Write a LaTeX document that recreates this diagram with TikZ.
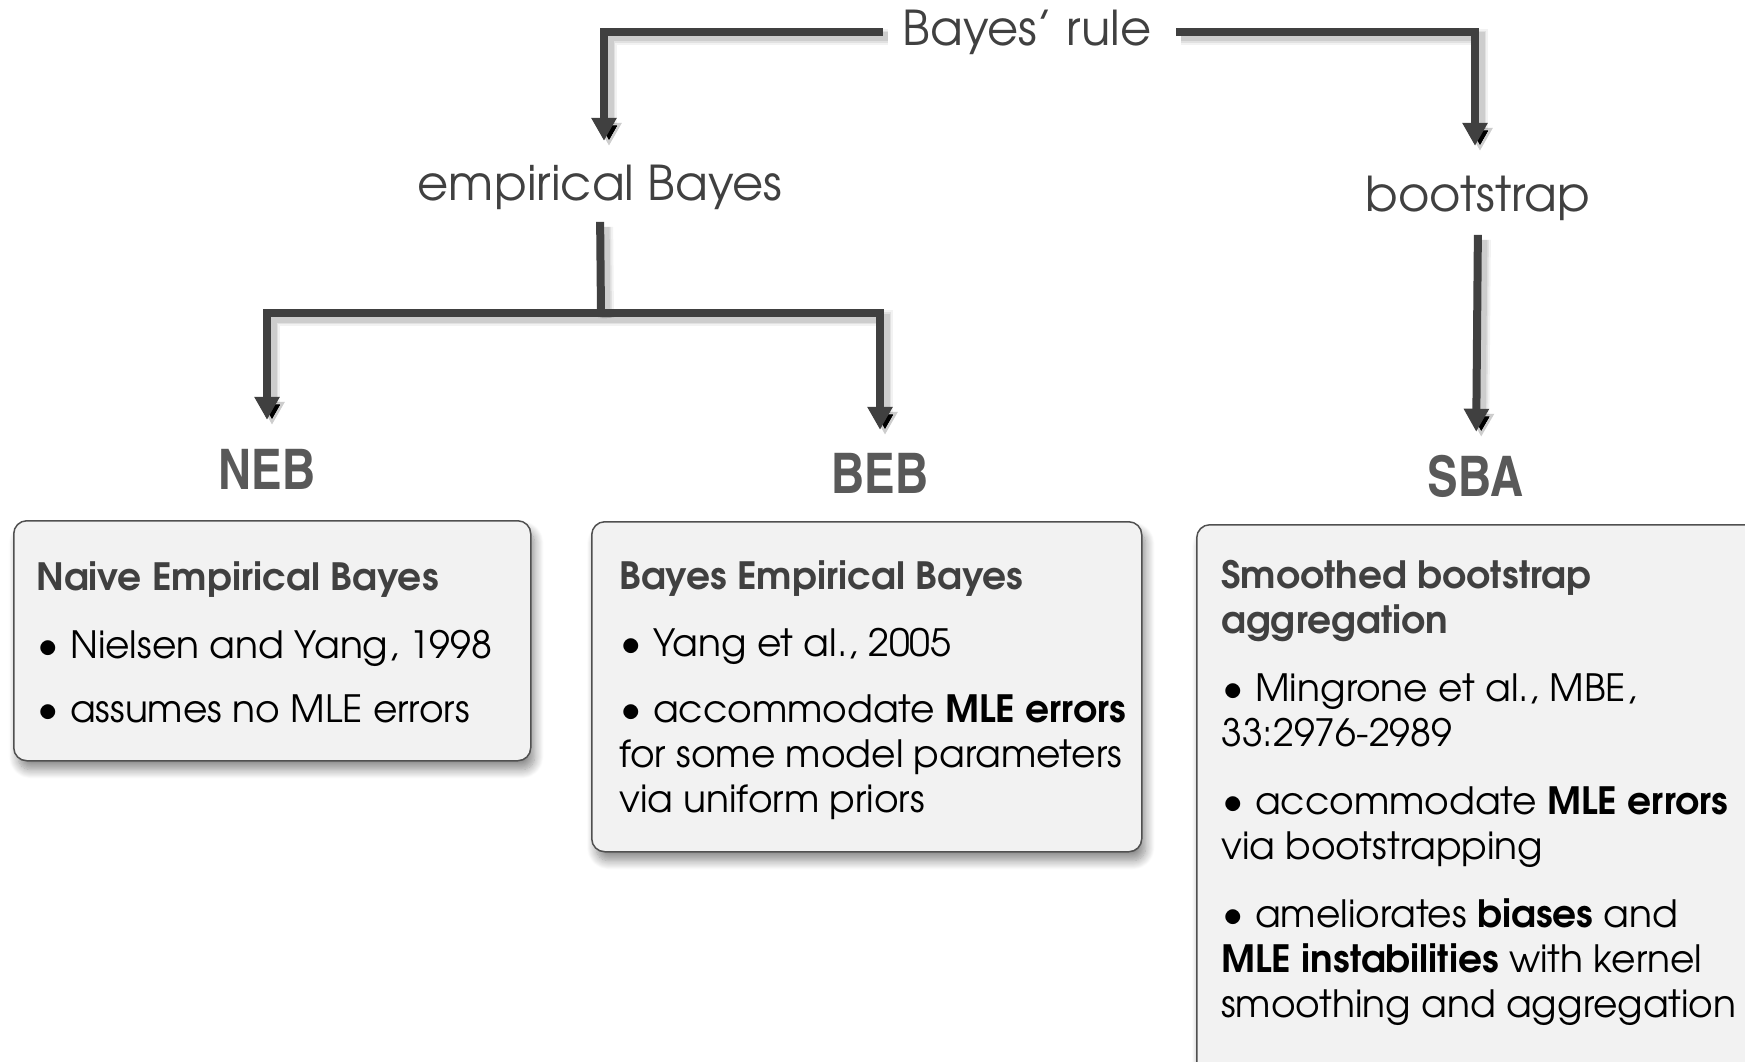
\documentclass[tikz,border=0pt]{standalone}
\usepackage{fontspec}
\setmainfont{texgyreadventor}[Extension=.otf, UprightFont=*-regular, BoldFont=*-bold, ItalicFont=*-italic, BoldItalicFont=*-bolditalic]
\newfontfamily\condfont{texgyreheroscn}[Extension=.otf, UprightFont=*-bold]
\usetikzlibrary{arrows.meta,shadows.blur}
\definecolor{conncol}{HTML}{404040}
\definecolor{boxfill}{HTML}{F2F2F2}
\definecolor{boxdraw}{HTML}{505050}
\definecolor{labcol}{HTML}{595959}
\definecolor{titlecol}{HTML}{404040}
\newcommand{\bulletmark}{\makebox[34pt][l]{\hspace{1.5pt}\scalebox{1.1}{•}}}
\begin{document}
\begin{tikzpicture}[x=1pt,y=-1pt,
  toptext/.style={inner sep=0pt, text=conncol, font=\fontsize{48}{58}\selectfont},
  lab/.style={inner sep=0pt, text=labcol, font=\condfont\fontsize{56}{60}\selectfont},
  linkline/.style={draw=conncol, line width=8pt, line join=miter,
    preaction={draw=black, draw opacity=0.05, line width=16pt, transform canvas={shift={(5pt,-5pt)}}},
    preaction={draw=black, draw opacity=0.07, line width=12pt, transform canvas={shift={(5pt,-5pt)}}},
    preaction={draw=black, draw opacity=0.09, line width=9pt, transform canvas={shift={(5pt,-5pt)}}}},
  conn/.style={linkline, -{Triangle[width=24pt,length=23pt]}},
  box/.style={draw=boxdraw, line width=1.5pt, fill=boxfill, rounded corners=13pt, inner sep=0pt, anchor=north west,
    blur shadow={shadow xshift=4pt, shadow yshift=-9pt, shadow blur radius=9pt, shadow blur steps=12, shadow opacity=45}},
  boxtext/.style={inner sep=0pt, anchor=north west, align=left, text=black, font=\fontsize{37.6}{45}\selectfont}
]
\useasboundingbox (0,0) rectangle (1745,1061);
\clip (0,0) rectangle (1745,1061);

% top level texts
\node[toptext, anchor=base] (bayes) at (1027,45) {Bayes’ rule};
\node[toptext, anchor=base] (eb) at (600,200) {empirical Bayes};
\node[toptext, anchor=base] (bs) at (1478,211) {bootstrap};

% labels
\node[lab, anchor=base] (neb) at (267,489) {NEB};
\node[lab, anchor=base] (beb) at (880,493) {BEB};
\node[lab, anchor=base] (sba) at (1476,496) {SBA};

% connectors
\draw[conn, shorten <=20pt, shorten >=23.5pt] (bayes.west) -| ([xshift=4pt]eb.north);
\draw[conn, shorten <=25pt, shorten >=29.5pt] (bayes.east) -| ([xshift=-3pt]bs.north);
\coordinate (split) at (601,313);
\draw[linkline, shorten <=12.5pt] (eb.south) -- (split);
\draw[conn, shorten >=28.8pt] (split) -| (neb.north);
\draw[conn, shorten >=22.8pt] (split) -| (beb.north);
\draw[conn, shorten <=14.5pt, shorten >=22.8pt] (bs.south) -- (sba.north);

% boxes
\node[box, minimum width=517pt, minimum height=240pt] (nebbox) at (13,520) {};
\node[box, minimum width=550pt, minimum height=330pt] (bebbox) at (591,521) {};
\node[box, minimum width=600pt, minimum height=600pt] (sbabox) at (1196,524) {};

\node[boxtext] (nebtext) at (36,561) {\textcolor{titlecol}{\bfseries Naive Empirical Bayes}\\[23pt]
\bulletmark Nielsen and Yang, 1998\\[19pt]
\bulletmark assumes no MLE errors};

\node[boxtext] (bebtext) at (619,560) {\textcolor{titlecol}{\bfseries Bayes Empirical Bayes}\\[22pt]
\bulletmark Yang et al., 2005\\[21pt]
\bulletmark accommodate \textbf{MLE errors}\\
for some model parameters\\
via uniform priors};

\node[boxtext] (sbatext) at (1221,560) {\textcolor{titlecol}{\bfseries Smoothed bootstrap}\\
\textcolor{titlecol}{\bfseries aggregation}\\[23pt]
\bulletmark Mingrone et al., MBE,\\
33:2976-2989\\[23pt]
\bulletmark accommodate \textbf{MLE errors}\\
via bootstrapping\\[23pt]
\bulletmark ameliorates \textbf{biases} and\\
\textbf{MLE instabilities} with kernel\\
smoothing and aggregation};
\end{tikzpicture}
\end{document}
